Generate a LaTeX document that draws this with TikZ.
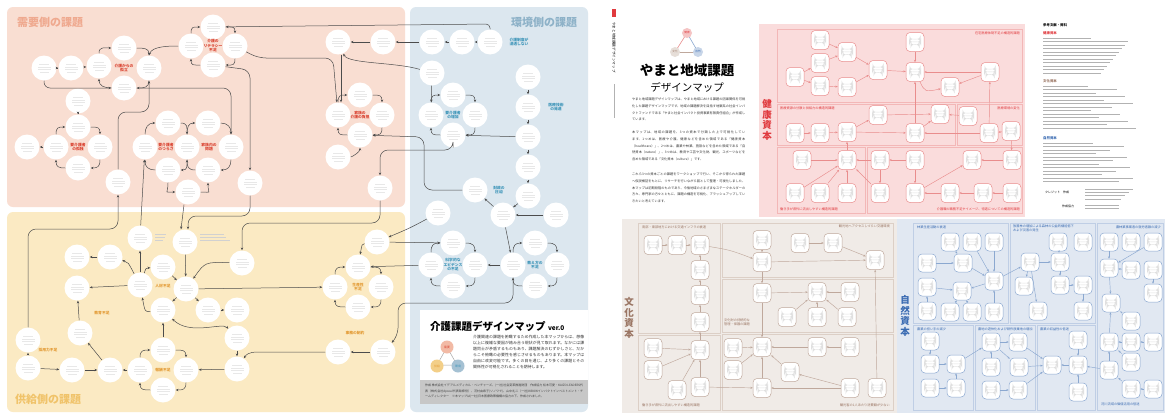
\documentclass[tikz,border=0pt]{standalone}
\usepackage{fontspec}
\setmainfont{Noto Sans CJK JP}
\XeTeXlinebreaklocale "ja"
\XeTeXlinebreakskip=0pt plus 1pt
\usetikzlibrary{arrows.meta}
\definecolor{tpink}{HTML}{EFA98F}
\definecolor{tblue}{HTML}{8EB2C8}
\definecolor{tbeige}{HTML}{F0C36A}
\definecolor{dpink}{HTML}{F9DED2}
\definecolor{dblue}{HTML}{DCE7EF}
\definecolor{dbeige}{HTML}{FBEAC3}
\definecolor{lred}{HTML}{D9412F}
\definecolor{lblue}{HTML}{3C94B8}
\definecolor{lorange}{HTML}{E39B35}
\definecolor{hbg}{HTML}{FADCDC}
\definecolor{hline}{HTML}{E98D8D}
\definecolor{hred}{HTML}{E03A3E}
\definecolor{hsub}{HTML}{F3B7B7}
\definecolor{cbg}{HTML}{F0EBE7}
\definecolor{cline}{HTML}{BFA89C}
\definecolor{cbrown}{HTML}{9A7563}
\definecolor{csub}{HTML}{DCCFC6}
\definecolor{nbg}{HTML}{E1E8F2}
\definecolor{nline}{HTML}{8BA8D0}
\definecolor{nblue}{HTML}{3A6BB2}
\definecolor{nsub}{HTML}{BFCEE5}
\newcommand\mycyc[5][arr]{%
 \draw[#1] (#2.east) .. controls +(7,0) and +(0,-7) .. (#3.north);
 \draw[#1] (#3.south) .. controls +(0,7) and +(7,0) .. (#4.east);
 \draw[#1] (#4.west) .. controls +(-7,0) and +(0,7) .. (#5.south);
 \draw[#1] (#5.north) .. controls +(0,-7) and +(-7,0) .. (#2.west);}
\tikzset{
 arr/.style={-{Stealth[length=2.8pt,width=2.4pt]}, draw=black!70, line width=0.5pt},
 darr/.style={{Stealth[length=2.8pt,width=2.4pt]}-{Stealth[length=2.8pt,width=2.4pt]}, draw=black!70, line width=0.5pt},
 harr/.style={-{Stealth[length=2.4pt,width=2pt]}, draw=hline, line width=0.45pt},
 carr/.style={-{Stealth[length=2.4pt,width=2pt]}, draw=cline, line width=0.45pt},
 narr/.style={-{Stealth[length=2.4pt,width=2pt]}, draw=nline, line width=0.45pt},
 faux/.style={path picture={\foreach \k/\w in {4.2/10,1.4/13,-1.4/13,-4.2/9}{\fill[black!9] ([xshift=-\w pt/2,yshift=\k pt]path picture bounding box.center) rectangle ++(\w pt,-0.5pt);}}},
 fauxb/.style={path picture={\foreach \k/\w in {3.2/11,0.4/12,-2.4/9}{\fill[black!12] ([xshift=-\w pt/2,yshift=\k pt]path picture bounding box.center) rectangle ++(\w pt,-0.5pt);}}},
 cn/.style={circle, fill=white, minimum size=25pt, inner sep=0pt, faux},
 hb/.style={draw=hline, fill=white, rounded corners=4pt, minimum width=18pt, minimum height=19pt, inner sep=0pt, line width=0.5pt, fauxb},
 cb/.style={hb, draw=cline},
 nb/.style={hb, draw=nline, minimum height=18pt},
 lab/.style={font=\fontsize{3.8}{4.5}\selectfont\bfseries, align=center, inner sep=0pt},
 big/.style={font=\fontsize{11}{11}\selectfont\bfseries},
 hl/.style={font=\fontsize{3.2}{3.8}\selectfont, text=hred, inner sep=0pt},
 cl/.style={font=\fontsize{3.2}{3.8}\selectfont, text=cbrown, inner sep=0pt, align=left},
 nl/.style={font=\fontsize{3.2}{3.8}\selectfont, text=nblue, inner sep=0pt, align=left},
 vt/.style={font=\fontsize{9.5}{10.5}\selectfont\bfseries, align=center},
 para/.style={text width=113pt, align=justify, inner sep=0pt, anchor=north west, font=\fontsize{3.2}{6.6}\selectfont, text=black!80}
}
\begin{document}
\begin{tikzpicture}[x=1pt,y=-1pt]
\useasboundingbox (0,0) rectangle (1169,415);
\fill[white] (0,0) rectangle (1169,415);
% ===== left poster backgrounds
\fill[dpink, rounded corners=6pt] (7,7) rectangle (405,207);
\fill[dblue, rounded corners=6pt] (410,7) rectangle (588,412);
\fill[dbeige, rounded corners=6pt] (7,212) rectangle (405,412);
\node[big, text=tpink] at (50,22) {需要側の課題};
\node[big, text=tblue] at (544,22) {環境側の課題};
\node[big, text=tbeige] at (48,399) {供給側の課題};
% ===== left poster nodes
\foreach \n/\x/\y in {a0/44/68, a1/71/68, aL/99/66, aT/124/48, aR/149/68, aB/124/88, a2/78/101, lT/213/27, lL/191/46, lR/235/46, lB/213/65, bT/78/127, bR/100/147, bB/78/168, bL/56/147, b0/27/147, f1/168/123, f2/208/123, fL/145/147, fC/187/147, fR/231/147, f3/168/170, f4/208/170, f5/188/192, c0/118/182, c1/250/183, e1/338/42, e2/383/42, e3/432/42, e4/462/42, e5/490/42, e6/432/73, hT/360/95, hR/382/115, hB/360/135, hL/338/115, h0/338/157, h2/380/188, kT/453/95, kR/475/115, kB/453/135, kL/431/115, m1/528/77, m2/528/107, m3/528/137, m4/528/167, m5/528/196, g1/475/190, n1/438/213, n2/503/215, n3/556/215, r0/377/242, rT/358/267, rR/381/287, rB/358/307, rL/335/287, pT/453/243, pR/475/265, pB/453/286, pL/431/265, qT/535/243, qR/557/265, qB/535/286, qL/513/265, t0/338/352, t1/383/352, s1/140/238, s2/185/242, s3/242/263, s4/77/257, s5/110/257, s6/163/267, s7/186/289, s8/140/285, s9/77/288, s10/163/310, s11/208/310, s12/237/310, sA/28/340, sB/28/368, s13/72/370, s14/110/370, s15/140/370, s16/163/350, s17/186/370, s18/163/390, s19/80/333, s20/237/338, s21/237/369}
  \node[cn] (\n) at (\x,\y) {};
% ===== left poster edges
\draw[arr] (a0) -- (a1); \draw[arr] (a1) -- (aL);
\mycyc{aT}{aR}{aB}{aL}
\draw[arr, rounded corners=6pt] (a0.south) |- (aB.west);
\draw[arr] (a2) -- (bT);
\mycyc{bT}{bR}{bB}{bL}
\draw[arr] (bL) -- (b0);
\mycyc{lT}{lR}{lB}{lL}
\draw[arr] (lL.west) .. controls (170,46) and (152,46) .. (aR.north);
\draw[arr, rounded corners=4pt] (e5.north) -- (490,24) -- (lT);
\draw[arr, rounded corners=8pt] (lR) -- (258,58) -- (333,58) -- (hL);
\draw[arr, rounded corners=8pt] (lB) -- (250,70) -- (c1);
\draw[arr, rounded corners=8pt] (aB) -- (231,88) -- (fR);
\draw[arr, rounded corners=8pt] (c0) -- (118,112) -- (149,112) -- (aR);
\mycyc{f1}{fC}{f3}{fL}
\mycyc{f2}{fR}{f4}{fC}
\draw[arr] (f3.south) .. controls +(0,12) and +(-12,0) .. (f5.west);
\draw[arr] (f5.east) .. controls +(12,0) and +(0,12) .. (f4.south);
\draw[arr] (e5) -- (e4); \draw[arr] (e4) -- (e3); \draw[arr] (e3) -- (e2); \draw[arr] (e2) -- (e1);
\draw[arr] (e6) .. controls (395,62) and (348,64) .. (e1);
\draw[arr] (e6) -- (kL);
\draw[arr] ([xshift=3pt]e1.south) -- ([xshift=3pt]hL.north);
\mycyc{hT}{hR}{hB}{hL}
\draw[arr] (h0) .. controls (352,157) and (360,152) .. (hB);
\mycyc{kT}{kR}{kB}{kL}
\draw[arr, rounded corners=8pt] (kB) -- (453,150) -- (380,150) -- (h2);
\draw[arr, rounded corners=8pt] (g1) -- (424,190) -- (424,137) -- (hB);
\draw[arr] (m1) -- (m2); \draw[arr] (m2) -- (m3); \draw[arr] (m3) -- (m4); \draw[arr] (m4) -- (m5);
\draw[arr] (m3) -- (kB);
\draw[arr] (m5) -- (n2); \draw[arr] (n3) -- (n2); \draw[arr] (n2) -- (g1);
\draw[arr] (n1) .. controls (410,228) .. (r0);
\draw[arr] (n2) -- (qL);
\mycyc{pT}{pR}{pB}{pL}
\mycyc{qT}{qR}{qB}{qL}
\mycyc{rT}{rR}{rB}{rL}
\draw[arr] (qL) -- (pR);
\draw[arr] (pL) -- (rT);
\draw[arr] (r0) -- (pT);
\draw[arr] (r0) .. controls (362,244) .. (rT);
\draw[arr, rounded corners=8pt] (qL) -- (513,303) -- (398,303) -- (398,336) -- (t1);
\draw[arr] (t1) -- (t0);
\draw[arr] (t0) -- (258,352) .. controls (248,352) and (246,355) .. (s21);
\draw[arr] (s7) -- (rL);
\draw[arr, rounded corners=8pt] (h2) -- (380,223) -- (242,223) -- (s3);
\draw[arr, rounded corners=8pt] (c1) -- (250,216) -- (188,216) -- ([xshift=3pt]s2.north);
\draw[arr] ([xshift=-4pt]f5.south) -- ([xshift=-4pt]s2.north);
\draw[arr, rounded corners=8pt] (sA) -- (28,229) -- (118,229) -- (c0);
\draw[arr] (s1) -- (fL);
\draw[arr] (s8) -- (s1);
\draw[arr] (s8) .. controls (128,262) .. (s5);
\draw[arr] (s5) -- (s4);
\draw[arr] (s8) .. controls (146,268) .. (s6);
\draw[arr] (s6) -- (s7);
\draw[arr] (s2) -- (s7);
\draw[arr] (s3) .. controls (205,262) .. (s7);
\draw[arr] (s7) -- (s10); \draw[arr] (s7) -- (s11); \draw[arr] (s11) -- (s12);
\draw[arr] (s8) -- (s9);
\draw[arr] (s10) .. controls (145,312) .. (s8);
\draw[darr] (s10) .. controls (190,336) and (222,322) .. (s20);
\draw[arr] (s20) -- (s21); \draw[arr] (s21) -- (s17);
\mycyc{s16}{s17}{s18}{s15}
\draw[arr] (s16) -- (s10);
\draw[arr] (s15) -- (s14); \draw[arr] (s13) -- (s14); \draw[arr] (sB) -- (s13); \draw[arr] (sB) -- (sA);
\draw[arr] (s14) -- (s19); \draw[arr] (s19) -- (s9);
% ===== left poster labels
\node[lab, text=lred] at (124,68) {介護からの\\孤立};
\node[lab, text=lred] at (213,46) {介護の\\リテラシー\\不足};
\node[lab, text=lred] at (78,147) {要介護者\\の孤独};
\node[lab, text=lred] at (166,147) {要介護者\\のつらさ};
\node[lab, text=lred] at (209,147) {家族内の\\問題};
\node[lab, text=lred] at (360,115) {家族の\\介護の負担};
\node[lab, text=lblue] at (519,42) {介護制度が\\浸透しない};
\node[lab, text=lblue] at (453,115) {要介護者\\の増加};
\node[lab, text=lblue] at (556,107) {医療技術\\の発達};
\node[lab, text=lblue] at (499,190) {財政の\\圧迫};
\node[lab, text=lblue] at (453,265) {科学的な\\エビデンス\\の不足};
\node[lab, text=lblue] at (535,265) {教え方の\\不足};
\node[lab, text=lorange] at (358,287) {生産性\\不足};
\node[lab, text=lorange] at (163,286) {人材不足};
\node[lab, text=lorange] at (102,313) {教育不足};
\node[lab, text=lorange] at (48,350) {採用力不足};
\node[lab, text=lorange] at (163,370) {報酬不足};
\node[lab, text=lorange] at (355,333) {事務の制約};
\foreach \yy/\ww in {234/11,237/10,240/8} \fill[black!18] (155,\yy) rectangle ++(\ww,0.5);
\foreach \yy/\ww in {234/24,237/26,240/30} \fill[black!18] (200,\yy) rectangle ++(\ww,0.5);
% ===== title box
\fill[white] (420,310) rectangle (588,380);
\fill[black!22] (420,380) rectangle (588,404);
\node[anchor=west, inner sep=0pt, font=\fontsize{10.5}{10.5}\selectfont\bfseries] (ttl) at (430,326) {介護課題デザインマップ};
\node[anchor=base west, inner sep=0pt, font=\fontsize{6.5}{6.5}\selectfont\bfseries] at ([xshift=2pt]ttl.base east) {ver.0};
\draw[black!35, line width=0.5pt] (447,347) -- (437,365) -- (457,365) -- cycle;
\node[circle, fill=tpink!80, minimum size=13pt, inner sep=0pt, font=\fontsize{2.8}{3}\selectfont, text=lred] at (447,347) {需要};
\node[circle, fill=tbeige!80, minimum size=13pt, inner sep=0pt, font=\fontsize{2.8}{3}\selectfont, text=lorange] at (437,366) {供給};
\node[circle, fill=tblue!80, minimum size=13pt, inner sep=0pt, font=\fontsize{2.8}{3}\selectfont, text=lblue] at (458,366) {環境};
\node[anchor=north west, text width=111pt, align=justify, inner sep=0pt, font=\fontsize{3.9}{6}\selectfont, text=black!80] at (473,335) {介護関連の課題を俯瞰するため作成した本マップからは、想像以上に複雑な要因が絡み合う現状が見て取れます。なかには課題同士が矛盾するものもあり、課題解決のむずかしさと、だからこそ俯瞰の必要性を感じさせるものもあります。本マップは自由に改変可能です。多くの目を通じ、より多くの課題とその関係性が可視化されることを期待します。};
\node[anchor=north west, text width=158pt, align=justify, inner sep=0pt, font=\fontsize{3}{5.5}\selectfont, text=black!75] at (425,384) {作成 株式会社イデアルメディカル・ベンチャーズ、(一社)社会変革推進財団　作成協力 松本可愛・KAIZO LEADERS代表（株式会社dpsoul代表取締役）、河村由希子(ソノワで)、山中礼二（一社)KIBOWインパクトインベストメント・チームディレクター　※本マップは(一社)日本医療政策機構の協力の下、作成されました。};
% ===== right poster: left page
\fill[hred] (612,9) rectangle (616,17);
\node[rotate=-90, anchor=west, inner sep=0pt, font=\fontsize{3.6}{4}\selectfont] at (614,22) {やまと地域課題デザインマップ};
\draw[black!30, line width=0.4pt] (614,84) -- (614,118);
\draw[hline, line width=0.6pt] (687,33) -- (675,52);
\draw[nline, line width=0.6pt] (687,33) -- (698,52);
\draw[cline, line width=0.6pt] (675,52) -- (698,52);
\node[circle, fill=hbg!70!hline, minimum size=10pt, inner sep=0pt, font=\fontsize{2.6}{3}\selectfont, text=hred] at (687,33) {健康};
\node[circle, fill=cbg!80!cline, minimum size=10pt, inner sep=0pt, font=\fontsize{2.6}{3}\selectfont, text=cbrown] at (675,52) {文化};
\node[circle, fill=nbg!70!nline, minimum size=10pt, inner sep=0pt, font=\fontsize{2.6}{3}\selectfont, text=nblue] at (698,52) {自然};
\node[font=\fontsize{13.5}{13.5}\selectfont\bfseries, inner sep=0pt] at (687,70) {やまと地域課題};
\node[font=\fontsize{10.5}{10.5}\selectfont, inner sep=0pt] at (687,87) {デザインマップ};
\node[para] at (632,98) {やまと地域課題デザインマップは、やまと地域における課題の因果関係を可視化した課題デザインマップです。地域の課題解決を目指す地銀系の社会インパクトファンドである「やまと社会インパクト投資事業有限責任組合」が作成しています。};
\node[para] at (632,131) {本マップは、地域の課題を、3つの資本で分類した上で可視化しています。1つめは、医療や介護、健康などを含めた領域である「健康資本（healthcare）」、2つめは、農業や林業、施設などを含めた領域である「自然資本（nature）」、3つめは、教育や工芸や文化財、観光、スポーツなどを含めた領域である「文化資本（culture）」です。};
\node[para] at (632,173) {これら3つの資本ごとの課題をワークショップで行い、そこから得られた課題へ仮説検証をもとに、リサーチを行いながら図として整理・可視化しました。本マップは初期段階のものであり、今後地域のさまざまなステークホルダーの方々、専門家の方々とともに、課題の構造を可視化、ブラッシュアップしていきたいと考えています。};
% ===== health panel
\fill[hbg] (759,24) rectangle (1025,217);
\begin{scope}[draw=hsub, line width=0.4pt]
\draw (777,29) rectangle (1022,102);
\draw (777,104) rectangle (955,145);
\draw (957,104) rectangle (1022,145);
\draw (777,147) rectangle (865,213);
\draw (867,147) rectangle (1022,213);
\end{scope}
\node[vt, text=hred] at (767,120) {健\\康\\資\\本};
\node[hl, anchor=east] at (1020,33) {在宅医療体制不足の構造的課題};
\node[hl, anchor=west] at (780,108) {医療資源の分散と供給力の構造的課題};
\node[hl, anchor=east] at (1020,108) {医療環境の変化};
\node[hl, anchor=west] at (780,209) {働き手が県外に流出しやすい構造的課題};
\node[hl, anchor=east] at (1020,209) {介護職の職務不足やイメージ、待遇についての構造的課題};
\foreach \n/\x/\y in {H1/820/40, H2/820/63, H3/795/77, H4/820/86, H5/847/52, H6/847/87, H7/878/70, H8/915/42, H9/915/72, H10/950/87, H11/990/72, M1/795/133, M2/820/133, M3/847/132, M4/878/115, M5/915/133, M6/940/114, M7/968/116, M8/989/133, M9/1011/131, B1/802/160, B2/847/160, B3/795/193, B4/820/193, B5/847/193, B6/880/160, B7/880/193, B8/915/160, B9/915/193, B10/950/193, B11/983/193, B12/972/160, B13/1012/160, B14/1012/193}
  \node[hb] (\n) at (\x,\y) {};
\foreach \a/\b in {H1/H5,H2/H5,H3/H2,H3/H4,H4/H6,H5/H7,H6/H7,H7/H9,H8/H9,H11/H9,H11/H10,M5/H9,M8/H11,M1/M2,M2/M3,M3/M4,M3/M5,M4/M6,M5/M6,M8/M5,M7/M6,M9/M8,M9/B13,B1/B2,B3/B2,B4/B2,B5/B2,B2/M3,B6/B2,B6/B7,B7/B2,B8/B9,B10/B9,B11/B10,B9/B12,B13/B12,B14/B11,B8/B6}
  \draw[harr] (\a) -- (\b);
\draw[harr] (H9) .. controls (925,92) .. (H10);
% ===== references
\node[anchor=west, inner sep=0pt, font=\fontsize{3.4}{4}\selectfont\bfseries] at (1043,25) {参考文献・資料};
\node[anchor=west, inner sep=0pt, font=\fontsize{3.4}{4}\selectfont\bfseries, text=hred] at (1043,33) {健康資本};
\foreach \i in {0,...,10} {\pgfmathsetmacro\ll{48+mod(\i*37,40)} \fill[black!30] (1043,37.5+\i*3.5) rectangle ++(\ll,0.6);}
\node[anchor=west, inner sep=0pt, font=\fontsize{3.4}{4}\selectfont\bfseries, text=cbrown] at (1043,81) {文化資本};
\foreach \i in {0,...,12} {\pgfmathsetmacro\ll{45+mod(\i*29,50)} \fill[black!30] (1043,85.5+\i*3.5) rectangle ++(\ll,0.6);}
\node[anchor=west, inner sep=0pt, font=\fontsize{3.4}{4}\selectfont\bfseries, text=nblue] at (1043,138) {自然資本};
\foreach \i in {0,...,11} {\pgfmathsetmacro\ll{50+mod(\i*31,45)} \fill[black!30] (1043,142.5+\i*3.5) rectangle ++(\ll,0.6);}
\node[anchor=west, inner sep=0pt, font=\fontsize{3}{4}\selectfont] at (1045,192) {クレジット　作成};
\foreach \i in {0,...,3} \fill[black!30] (1085,189+\i*3.2) rectangle ++(48-\i*4,0.6);
\node[anchor=west, inner sep=0pt, font=\fontsize{3}{4}\selectfont] at (1062,206) {作成協力};
\foreach \i in {0,...,1} \fill[black!30] (1085,204.5+\i*3.2) rectangle ++(34,0.6);
% ===== culture panel
\fill[cbg] (622,219) rectangle (897,413);
\begin{scope}[draw=csub, line width=0.4pt]
\draw (638,223) rectangle (720,333);
\draw (638,335) rectangle (720,410);
\draw (722,223) rectangle (893,277);
\draw (722,279) rectangle (893,332);
\draw (722,334) rectangle (893,410);
\end{scope}
\node[vt, text=cbrown] at (629,318) {文\\化\\資\\本};
\node[cl, anchor=west] at (642,227) {南部・東部地方における交通インフラの衰退};
\node[cl, anchor=west] at (642,405) {働き手が県外に流出しやすい構造的課題};
\node[cl, anchor=east] at (890,226) {観光地へアクセスしづらい交通環境};
\node[cl, anchor=west] at (724,322) {文化財の持続的な\\管理・保護の課題};
\node[cl, anchor=east] at (890,405) {観光客の1人あたり消費額が少ない};
\foreach \n/\x/\y in {C1/653/245, C2/677/245, C3/700/245, C4/700/270, C5/700/295, C6/700/322, C7/700/350, C8/653/348, C9/653/370, C10/677/390, C11/700/387, E1/733/348, E2/733/370, D1/762/240, D2/762/262, D3/762/293, D4/762/347, D5/762/388, F1/800/243, F2/833/243, F3/875/260, F4/817/292, F5/850/292, F6/787/317, F7/817/317, F8/847/317, F9/817/347, F10/850/347, F11/790/372, F12/850/388, F13/877/388}
  \node[cb] (\n) at (\x,\y) {};
\foreach \a/\b in {C1/C2,C2/C3,C4/C3,C5/C4,C6/C5,C7/C6,C8/C7,C9/C7,C10/C7,C11/C7,C11/D5,E1/D4,E2/D4,D1/D2,D2/D3,D3/D4,D5/D4,D2/F3,F1/F2,F2/F3,D3/F4,F6/F4,F7/F4,F8/F4,F5/F4,F9/D4,F10/F9,F11/D4,F12/F11,F12/D5,F13/F3}
  \draw[carr] (\a) -- (\b);
\draw[carr] (C3) .. controls (730,250) .. (D2);
% ===== nature panel
\fill[nbg] (897,219) rectangle (1165,413);
\begin{scope}[draw=nsub, line width=0.4pt]
\draw (913,223) rectangle (1008,323);
\draw (1010,223) rectangle (1095,323);
\draw (1097,223) rectangle (1163,410);
\draw (913,325) rectangle (973,410);
\draw (975,325) rectangle (1035,410);
\draw (1037,325) rectangle (1095,410);
\end{scope}
\node[vt, text=nblue] at (905,316) {自\\然\\資\\本};
\node[nl, anchor=west] at (917,227) {林業生産活動の衰退};
\node[nl, anchor=north west] at (1013,225) {放置林の増加による森林の公益的機能低下\\および災害の発生};
\node[nl, anchor=east] at (1161,227) {農林業事業者の就労者数の減少};
\node[nl, anchor=west] at (917,329) {農業の担い手の減少};
\node[nl, anchor=west] at (978,329) {農地の遊休化および耕作放棄地の増加};
\node[nl, anchor=west] at (1040,329) {農業の収益性の低迷};
\node[nl, anchor=west] at (1101,404) {河川流域の価値活用の低迷};
\foreach \n/\x/\y in {N1/950/242, N2/972/242, N3/994/242, N4/927/263, N5/963/263, N6/994/281, N7/927/287, N8/962/291, N9/927/311, N10/950/312, N11/972/312, N12/994/312, T1/1030/262, T2/1058/242, T3/1083/242, T4/1060/262, T5/1024/286, T6/1060/285, T7/1083/285, T8/1038/311, T9/1083/311, R1/1109/242, R2/1131/242, R3/1153/242, R4/1109/268, R5/1131/270, R6/1153/270, R7/1153/293, R8/1111/303, R9/1131/321, R10/1109/342, R11/1131/342, R12/1153/342, R13/1131/362, R14/1109/370, R15/1131/389, R16/1153/389, W1/930/341, W2/930/364, W3/930/388, W4/956/364, W5/956/388, X1/991/342, X2/1018/342, X3/991/367, X4/1019/367, X5/991/390, X6/1018/390, Y1/1052/365, Y2/1078/340, Y3/1078/365, Y4/1078/392}
  \node[nb] (\n) at (\x,\y) {};
\foreach \a/\b in {N1/N5,N2/N6,N3/N6,N4/N5,N5/N6,N6/N8,N7/N8,N9/N7,N10/N8,N11/N8,N12/N6,N6/T1,T2/T4,T1/T4,T4/T6,T6/T7,T7/T9,T1/T5,T1/T8,R1/R4,R3/R4,R5/R4,R4/R8,R9/R8,R11/R10,R12/R11,R13/R10,R14/R10,R15/R14,R16/R15,R10/R8,R6/R7,W1/W2,W2/W4,W3/W5,W5/W4,W4/X1,X1/X2,X1/X4,X3/X1,X5/X6,X6/Y1,X2/Y1,X4/Y1,Y2/Y3,Y3/Y1,Y4/Y3,R14/Y3}
  \draw[narr] (\a) -- (\b);
\end{tikzpicture}
\end{document}
